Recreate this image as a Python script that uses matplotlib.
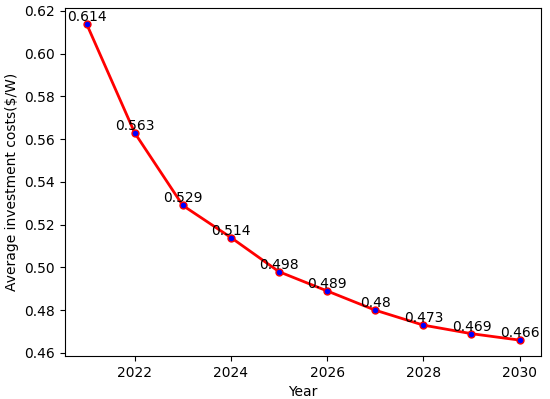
import matplotlib
matplotlib.use("Agg")
import matplotlib.pyplot as plt

years = [2021, 2022, 2023, 2024, 2025, 2026, 2027, 2028, 2029, 2030]
costs = [0.614, 0.563, 0.529, 0.514, 0.498, 0.489, 0.48, 0.473, 0.469, 0.466]

fig, ax = plt.subplots(figsize=(5.5, 3.99), dpi=100)
ax.plot(years, costs, color="red", linewidth=2, marker="o", markersize=5,
        markerfacecolor="blue", markeredgecolor="red")
for x, y in zip(years, costs):
    ax.text(x, y, str(y), ha="center", va="bottom", fontsize=10)

ax.set_xlabel("Year")
ax.set_ylabel("Average investment costs($/W)")
fig.subplots_adjust(left=0.118, right=0.984, top=0.98, bottom=0.108)
fig.savefig("out.png", dpi=100)
